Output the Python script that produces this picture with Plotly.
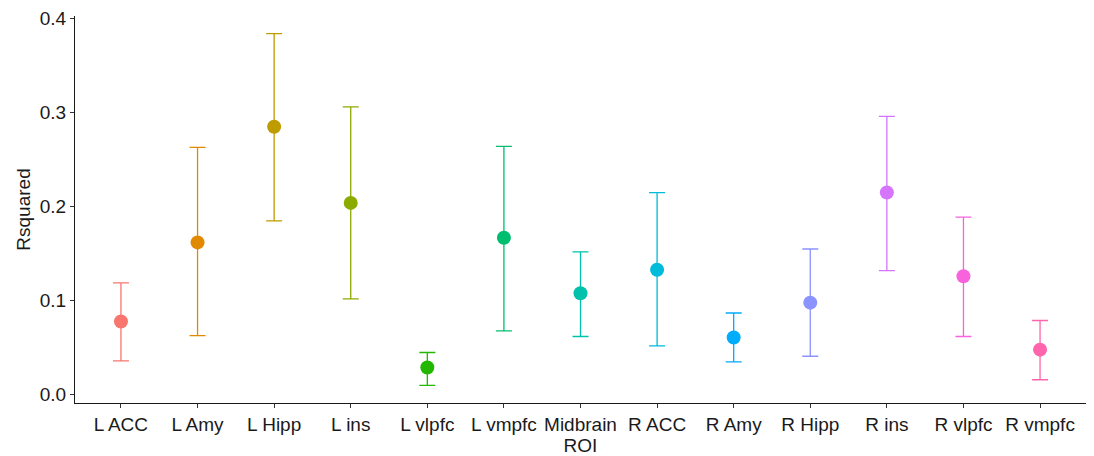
import plotly.graph_objects as go

rois = ["L ACC", "L Amy", "L Hipp", "L ins", "L vlpfc", "L vmpfc", "Midbrain",
        "R ACC", "R Amy", "R Hipp", "R ins", "R vlpfc", "R vmpfc"]
rsq = [0.078, 0.162, 0.285, 0.204, 0.029, 0.167, 0.108, 0.133, 0.061, 0.098, 0.215, 0.126, 0.048]
upper = [0.119, 0.263, 0.384, 0.306, 0.045, 0.264, 0.152, 0.215, 0.087, 0.155, 0.296, 0.189, 0.079]
lower = [0.036, 0.063, 0.185, 0.102, 0.010, 0.068, 0.062, 0.052, 0.035, 0.041, 0.132, 0.062, 0.016]
colors = ["#F8766D", "#E18A00", "#BE9C00", "#8CAB00", "#24B700", "#00BE70", "#00C1AB",
          "#00BBDA", "#00ACFC", "#8B93FF", "#D575FE", "#F962DD", "#FF65AC"]
yticks = [0.0, 0.1, 0.2, 0.3, 0.4]

fig = go.Figure()
for i, name in enumerate(rois):
    fig.add_trace(go.Scatter(
        x=[i], y=[rsq[i]], mode="markers", name=name, showlegend=False,
        marker=dict(color=colors[i], size=14),
        error_y=dict(type="data", symmetric=False,
                     array=[upper[i] - rsq[i]], arrayminus=[rsq[i] - lower[i]],
                     color=colors[i], thickness=1.3, width=8),
    ))

lo = min(lower); hi = max(upper); pad = 0.05 * (hi - lo)
fs = 19
fig.update_layout(
    width=1086, height=448,
    margin=dict(l=67, r=8, t=8, b=53, autoexpand=False),
    paper_bgcolor="white", plot_bgcolor="white",
    font=dict(family="Liberation Sans, Arial, sans-serif", size=fs, color="#1a1a1a"),
    xaxis=dict(
        tickmode="array", tickvals=list(range(len(rois))), ticktext=rois,
        range=[-0.6, len(rois) - 0.4], showgrid=False, zeroline=False,
        showline=True, linecolor="#1a1a1a", linewidth=1.2,
        ticks="outside", ticklen=4, tickcolor="#333333", tickwidth=1,
        automargin=False,
        title=dict(text="ROI", standoff=0, font=dict(size=fs)),
        tickfont=dict(size=fs, color="#1a1a1a"),
    ),
    yaxis=dict(
        tickmode="array", tickvals=yticks, ticktext=[f"{v:.1f}" for v in yticks],
        range=[lo - pad, hi + pad], showgrid=False, zeroline=False,
        showline=True, linecolor="#1a1a1a", linewidth=1.2,
        ticks="outside", ticklen=4, tickcolor="#333333", tickwidth=1,
        automargin=False,
        title=dict(text="Rsquared", standoff=4, font=dict(size=fs)),
        tickfont=dict(size=fs, color="#1a1a1a"),
    ),
)
fig.write_html("out.html")
